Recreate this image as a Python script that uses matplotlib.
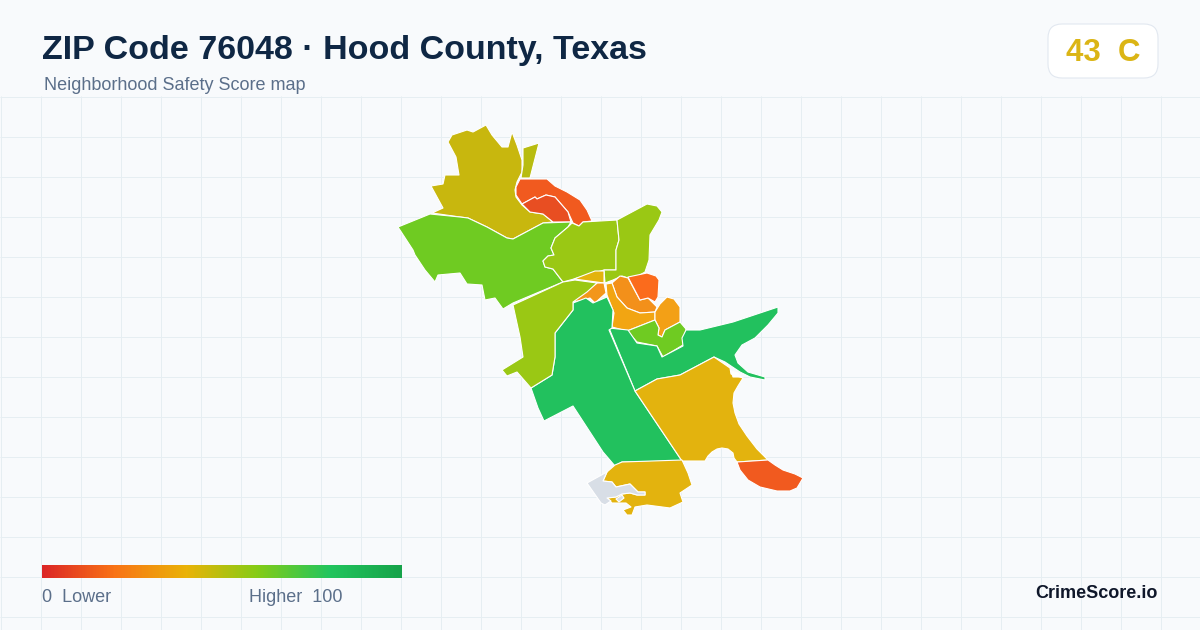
import numpy as np
import matplotlib
matplotlib.use("Agg")
import matplotlib.pyplot as plt
from matplotlib.colors import LinearSegmentedColormap
from matplotlib.patches import FancyBboxPatch, Polygon

plt.rcParams['font.family'] = ['Liberation Sans', 'DejaVu Sans']

title = "ZIP Code 76048 · Hood County, Texas"
subtitle = "Neighborhood Safety Score map"
badge = "43  C"
brand = "CrimeScore.io"
legend_low = "0  Lower"
legend_high = "Higher  100"

gradient_stops = [0, .2, .4, .6, .8, 1]
gradient_colors = ["#dc2626", "#f97316", "#eab308", "#84cc16", "#22c55e", "#16a34a"]

nw_yellow = [(432,213),(443,208),(431,186),(443,184),(445,175),(459,175),(456,157),(448,142),(452,135),(458,133),(467,130),(473,132),(486,125),(492,135),(502,147),(508,147),(512,132),(517,145),(522,160),(522,172),(517,182),(515,190),(516,197),(522,205),(530,212),(543,214),(553,222),(543,223),(513,239),(507,238),(487,227),(468,218),(460,217)]
ne_strip = [(523,148),(539,143),(530,178),(521,178),(523,165)]
red_outer = [(516,187),(520,179),(547,179),(555,186),(567,192),(580,200),(587,210),(592,221),(583,222),(579,226),(573,223),(568,212),(555,197),(546,195),(537,199),(535,197),(522,204),(516,195)]
red_inner = [(522,204),(535,197),(537,199),(546,195),(555,197),(568,212),(571,222),(553,222),(543,214),(530,212)]
west_green = [(398,227),(430,214),(460,217),(468,218),(487,227),(507,238),(513,239),(543,223),(571,222),(568,227),(555,238),(551,248),(554,255),(548,256),(543,261),(545,267),(553,269),(563,282),(513,303),(503,309),(495,298),(485,300),(482,285),(467,284),(460,273),(438,275),(435,282),(425,270),(415,255),(413,250)]
central_lime = [(572,223),(579,226),(583,222),(617,220),(619,240),(616,250),(616,270),(604,270),(574,279),(563,282),(553,269),(545,267),(543,261),(548,256),(554,255),(551,248),(555,238),(568,227)]
east_lime = [(617,220),(647,204),(657,206),(662,212),(659,220),(650,235),(649,260),(645,272),(638,276),(628,278),(622,276),(613,280),(605,283),(604,270),(616,270),(616,250),(619,240)]
small_yellow = [(574,279),(595,271),(604,271),(604,283)]
small_orange = [(573,302),(577,298),(590,288),(597,283),(604,283),(606,293),(595,303),(590,298),(583,300)]
arc_orange = [(612,283),(620,276),(628,278),(640,300),(648,298),(657,307),(655,312),(640,313),(627,308),(617,297)]
bright_orange = [(628,277),(647,273),(656,276),(659,280),(658,297),(655,302),(648,298),(640,300)]
amber_south = [(606,284),(612,283),(617,297),(627,308),(640,313),(655,312),(655,320),(627,331),(612,327),(614,313),(607,295)]
amber_east = [(655,312),(660,304),(667,297),(674,299),(680,307),(680,322),(665,330),(662,337),(658,335),(659,328),(655,320)]
lime_inner = [(627,331),(655,320),(659,328),(658,335),(662,337),(665,330),(680,322),(686,329),(683,345),(663,357),(657,346),(637,342)]
east_green = [(609,328),(628,330),(637,343),(657,346),(662,357),(683,346),(682,338),(686,330),(700,330),(733,322),(778,307),(778,313),(768,325),(755,338),(742,345),(735,355),(738,363),(748,372),(765,377),(765,380),(750,377),(740,372),(725,362),(714,357),(680,375),(657,379),(635,391)]
central_green = [(607,297),(613,310),(612,328),(609,330),(635,391),(682,461),(622,462),(615,466),(603,452),(573,406),(544,421),(538,408),(531,388),(552,375),(555,357),(555,333),(573,310),(573,303),(586,298),(593,303)]
sw_lime = [(513,305),(563,282),(575,280),(597,283),(587,292),(573,302),(573,310),(555,333),(555,357),(552,375),(531,388),(517,372),(507,376),(502,370),(523,357),(520,337)]
se_yellow = [(635,391),(657,379),(680,375),(714,357),(730,368),(731,374),(743,378),(738,386),(734,393),(733,403),(735,413),(739,424),(747,436),(757,449),(768,460),(737,462),(734,458),(733,453),(728,449),(722,448),(717,449),(712,452),(708,456),(705,461),(682,461)]
se_notch = [(731,371),(738,373),(741,377),(733,377)]
se_red = [(737,462),(768,460),(775,465),(783,470),(795,474),(803,478),(797,488),(790,491),(777,491),(760,487),(748,480),(740,470)]
south_yellow = [(622,462),(682,460),(688,473),(692,485),(680,493),(683,502),(670,508),(647,505),(635,507),(632,515),(627,515),(623,510),(631,507),(626,503),(612,503),(607,498),(616,497),(622,494),(630,493),(637,495),(645,495),(645,492),(638,492),(630,484),(616,487),(612,482),(603,481),(607,472),(615,465)]
south_gray = [(587,483),(607,472),(603,481),(612,482),(616,487),(630,484),(638,492),(645,492),(645,495),(637,495),(630,493),(622,494),(616,497),(607,498),(611,501),(605,505),(601,503)]
gray_isle = [(616,499),(622,495),(624,498),(619,502)]

zones = [
    (nw_yellow, "#c8b70e"), (ne_strip, "#b8bc10"), (red_outer, "#f15a1f"), (red_inner, "#e84e22"),
    (west_green, "#6fcb22"), (central_lime, "#9ac814"), (east_lime, "#9ac814"), (small_yellow, "#e3b30e"),
    (small_orange, "#f3961a"), (arc_orange, "#f3901a"), (bright_orange, "#fb6b1c"), (amber_south, "#f2a512"),
    (amber_east, "#f3a016"), (lime_inner, "#6fcb22"), (east_green, "#22c15e"), (central_green, "#22c15e"),
    (sw_lime, "#9ac814"), (se_yellow, "#e3b30e"), (se_notch, "#ffffff"), (se_red, "#f15a1f"),
    (south_yellow, "#e3b30e"), (south_gray, "#d8dee6"), (gray_isle, "#d8dee6"),
]

fig = plt.figure(figsize=(12, 6.3), dpi=100, facecolor="#f8fafc")
ax = fig.add_axes([0, 0, 1, 1])
ax.set_facecolor("#f8fafc")
ax.axis("off")

grid_color = "#e6eef2"
ax.vlines(np.arange(0.5, 1200, 40), 96, 630, color=grid_color, lw=0.72, zorder=1)
ax.hlines(np.arange(96.5, 630, 40), 0, 1200, color=grid_color, lw=0.72, zorder=1)

for pts, col in zones:
    ax.add_patch(Polygon(pts, closed=True, facecolor=col, edgecolor="white", lw=0.8, joinstyle="round", zorder=3))

ax.text(42, 50, title, fontsize=24.5, fontweight="bold", color="#0f2744", va="center", ha="left", zorder=5)
ax.text(44, 86, subtitle, fontsize=13, color="#5b6f8a", va="center", ha="left", zorder=5)

ax.add_patch(FancyBboxPatch((1060, 36), 86, 30, boxstyle="round,pad=12,rounding_size=14", mutation_scale=1,
                            fc="white", ec="#e2e8f0", lw=0.8, zorder=4))
ax.text(1103, 53, badge, fontsize=22.5, fontweight="bold", color="#dbb515", va="center", ha="center", zorder=5)

cmap = LinearSegmentedColormap.from_list("score", list(zip(gradient_stops, gradient_colors)))
ax.imshow(np.linspace(0, 1, 360).reshape(1, -1), cmap=cmap, extent=(42, 402, 578, 565), aspect="auto", zorder=4)

ax.text(42, 598, legend_low, fontsize=13, color="#5b6f8a", va="center", ha="left", zorder=5)
ax.text(249, 598, legend_high, fontsize=13, color="#5b6f8a", va="center", ha="left", zorder=5)
ax.text(1158, 594, brand, fontsize=13, fontweight="bold", color="#0f172a", va="center", ha="right", zorder=5)

ax.set_xlim(0, 1200)
ax.set_ylim(630, 0)
fig.savefig("out.png", dpi=100, facecolor=fig.get_facecolor())
